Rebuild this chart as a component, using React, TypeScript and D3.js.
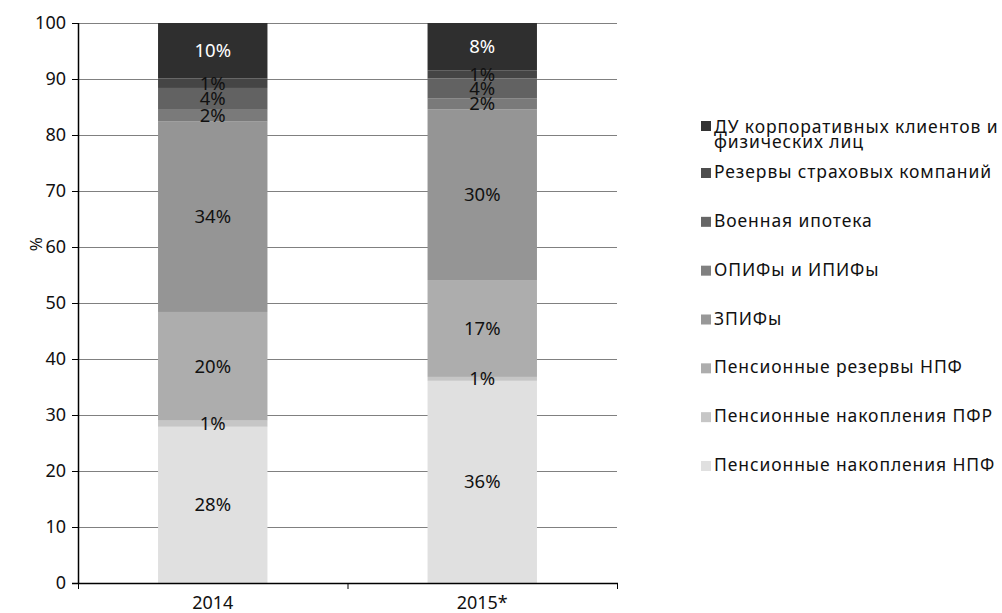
import React from 'react';
import * as d3 from 'd3';

const years = ['2014', '2015*'];

// series, bottom to top
const seriesNames = [
  'Пенсионные накопления НПФ',
  'Пенсионные накопления ПФР',
  'Пенсионные резервы НПФ',
  'ЗПИФы',
  'ОПИФы и  ИПИФы',
  'Военная ипотека',
  'Резервы страховых компаний',
  'ДУ корпоративных клиентов и физических лиц',
];
const values2014 = [27.9, 1.1, 19.4, 34.0, 2.1, 3.9, 1.7, 9.9];
const values2015 = [36.1, 0.7, 17.3, 30.5, 1.9, 3.6, 1.4, 8.5];
const labels2014 = ['28%', '1%', '20%', '34%', '2%', '4%', '1%', '10%'];
const labels2015 = ['36%', '1%', '17%', '30%', '2%', '4%', '1%', '8%'];
const yTicks = [0, 10, 20, 30, 40, 50, 60, 70, 80, 90, 100];

const fills = ['#e0e0e0', '#c6c6c6', '#adadad', '#959595', '#7a7a7a', '#626262', '#454545', '#2f2f2f'];
const legendFills = ['#e0e0e0', '#c6c6c6', '#adadad', '#989898', '#808080', '#666666', '#4d4d4d', '#333333'];

const W = 1002;
const H = 613;
const margin = { top: 23, right: 385, bottom: 30, left: 78 };
const font = '"Noto Sans", sans-serif';

export default function App() {
  const x = d3.scaleBand().domain(years).range([margin.left, W - margin.right]).paddingInner(0.594).paddingOuter(0.297);
  const y = d3.scaleLinear().domain([0, 100]).range([H - margin.bottom, margin.top]);

  const rows = years.map((yr, i) => {
    const vals = i === 0 ? values2014 : values2015;
    const row: Record<string, number | string> = { year: yr };
    seriesNames.forEach((s, j) => (row[s] = vals[j]));
    return row;
  });
  const stacked = d3.stack<any>().keys(seriesNames)(rows);
  const allLabels = [labels2014, labels2015];

  const x0 = margin.left;
  const x1 = W - margin.right;
  const step = x.step();

  // legend, top item is last series
  const legendItems = seriesNames.map((s, j) => ({ name: s, j })).reverse();
  const legendY = d3.scaleLinear().domain([1, 7]).range([172, 465]);
  const legendText = { fontSize: 17.5, fill: '#111', letterSpacing: 0.9 };

  return (
    <svg width={W} height={H} style={{ position: 'absolute', left: 0, top: 0, fontFamily: font }}>
      <rect width={W} height={H} fill="#fff" />
      {yTicks.slice(1).map(t => (
        <line key={t} x1={x0} x2={x1} y1={Math.round(y(t)) + 0.5} y2={Math.round(y(t)) + 0.5} stroke="#808080" strokeWidth={1} />
      ))}
      {stacked.map((layer, j) => (
        <g key={j}>
          {layer.map((d, i) => (
            <rect
              key={i}
              x={x(years[i])}
              width={x.bandwidth()}
              y={y(d[1])}
              height={y(d[0]) - y(d[1])}
              fill={fills[j]}
            />
          ))}
        </g>
      ))}
      {stacked.map((layer, j) => (
        <g key={'l' + j}>
          {layer.map((d, i) => (
            <text
              key={i}
              x={(x(years[i]) as number) + x.bandwidth() / 2}
              y={y((d[0] + d[1]) / 2)}
              dy="0.35em"
              textAnchor="middle"
              fontSize={18.5}
              fill={j === 7 ? '#fff' : '#111'}
            >
              {allLabels[i][j]}
            </text>
          ))}
        </g>
      ))}
      {/* y axis */}
      <line x1={x0 + 0.5} x2={x0 + 0.5} y1={y(100)} y2={y(0) + 1} stroke="#000" strokeWidth={1.5} />
      {yTicks.map(t => (
        <g key={t}>
          <line x1={x0 - 6} x2={x0} y1={Math.round(y(t)) + 0.5} y2={Math.round(y(t)) + 0.5} stroke="#000" />
          <text x={x0 - 12} y={y(t)} dy="0.35em" textAnchor="end" fontSize={18} fill="#111">
            {t}
          </text>
        </g>
      ))}
      <text transform={`translate(42,${y(60.5)}) rotate(-90)`} textAnchor="middle" fontSize={17} fill="#111">
        %
      </text>
      {/* x axis */}
      <line x1={x0 - 6} x2={x1 + 1} y1={Math.round(y(0)) + 0.5} y2={Math.round(y(0)) + 0.5} stroke="#000" strokeWidth={1.5} />
      {[0, 1, 2].map(k => (
        <line key={k} x1={x0 + k * step + 0.5} x2={x0 + k * step + 0.5} y1={y(0)} y2={y(0) + 6} stroke="#000" />
      ))}
      {years.map(yr => (
        <text key={yr} x={(x(yr) as number) + x.bandwidth() / 2} y={y(0) + 26} textAnchor="middle" fontSize={18} fill="#111">
          {yr}
        </text>
      ))}
      {/* legend */}
      {legendItems.map((it, k) => {
        if (k === 0) {
          return (
            <g key={k}>
              <rect x={701} y={121} width={10} height={10} fill={legendFills[it.j]} />
              <text x={714} y={127} dy="0.35em" {...legendText}>
                ДУ корпоративных клиентов и
              </text>
              <text x={714} y={142} dy="0.35em" {...legendText}>
                физических лиц
              </text>
            </g>
          );
        }
        const cy = legendY(k);
        return (
          <g key={k}>
            <rect x={701} y={cy - 4} width={10} height={10} fill={legendFills[it.j]} />
            <text x={714} y={cy} dy="0.35em" {...legendText}>
              {it.name}
            </text>
          </g>
        );
      })}
    </svg>
  );
}
